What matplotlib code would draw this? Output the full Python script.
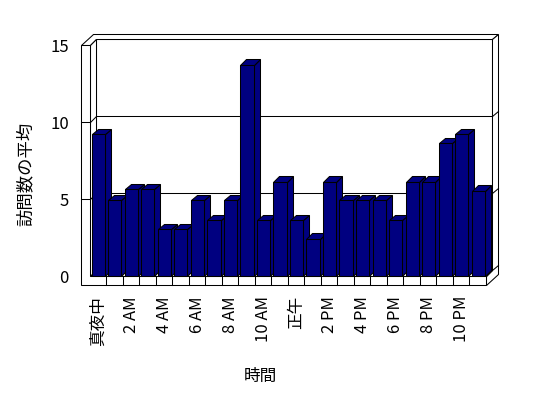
import matplotlib
matplotlib.use("Agg")
import matplotlib.pyplot as plt
from matplotlib.patches import Polygon
from matplotlib.lines import Line2D
from matplotlib.transforms import IdentityTransform

plt.rcParams['font.family'] = ['Noto Sans CJK JP', 'DejaVu Sans']

# ---- data ----
hours = list(range(24))
visits = [9.2, 4.9, 5.6, 5.6, 3.0, 3.0, 4.9, 3.6, 4.9, 13.7, 3.6, 6.1,
          3.6, 2.4, 6.1, 4.9, 4.9, 4.9, 3.6, 6.1, 6.1, 8.6, 9.2, 5.5]
tick_labels = ["真夜中", "2 AM", "4 AM", "6 AM", "8 AM", "10 AM",
               "正午", "2 PM", "4 PM", "6 PM", "8 PM", "10 PM"]
y_ticks = [0, 5, 10, 15]
x_title = "時間"
y_title = "訪問数の平均"

# ---- layout / style ----
W, H = 548, 398
BAR = "#000080"
LW = 0.75
DX, DY = 6.0, 5.5          # depth offset in pixels
WT, FT = 0.51, 0.6         # wall / floor thickness (data units)
N = len(hours)
YMAX = y_ticks[-1]

fig = plt.figure(figsize=(W / 100, H / 100), dpi=100)
ax = fig.add_axes([89.5 / W, 1 - 276.7 / H, (486 - 89.5) / W, (276.7 - 45.7) / H])
ax.set_xlim(0, N)
ax.set_ylim(0, YMAX)
ax.patch.set_visible(False)
for s in ax.spines.values():
    s.set_visible(False)


def P(x, y, d):
    X, Y = ax.transData.transform((x, y))
    # snap to pixel centres for crisp 1-px edges
    return (round(X + d * DX) + 0.5, round(Y + d * DY) + 0.5)


def poly(pts, fc, z):
    ax.add_patch(Polygon([P(*p) for p in pts], closed=True, transform=IdentityTransform(),
                         facecolor=fc, edgecolor="black", linewidth=LW, zorder=z,
                         clip_on=False, joinstyle="miter", snap=False))


def line(p, q, z=1.5):
    a, b = P(*p), P(*q)
    ax.add_line(Line2D([a[0], b[0]], [a[1], b[1]], transform=IdentityTransform(),
                       color="black", linewidth=LW, zorder=z, clip_on=False, snap=False))


# walls
poly([(0, 0, 1), (N, 0, 1), (N, YMAX, 1), (0, YMAX, 1)], "white", 1)
poly([(-WT, YMAX, 0), (0, YMAX, 0), (0, YMAX, 1), (N, YMAX, 1), (N, YMAX, 2), (-WT, YMAX, 2)], "white", 1)
poly([(N, 0, 0), (N, 0, 1), (N, YMAX, 1), (N, YMAX, 2), (N, -FT, 2), (N, -FT, 0)], "white", 1)
poly([(0, 0, 0), (0, YMAX, 0), (0, YMAX, 1), (0, 0, 1)], "white", 1)
poly([(0, 0, 0), (N, 0, 0), (N, 0, 1), (0, 0, 1)], "white", 1)
poly([(-WT, YMAX, 0), (0, YMAX, 0), (0, 0, 0), (N, 0, 0), (N, -FT, 0), (-WT, -FT, 0)], "white", 1.2)

for v in y_ticks[1:-1]:
    line((0, v, 1), (N, v, 1))
    line((0, v, 0), (0, v, 1))
    line((-WT, v, 0), (0, v, 0))
    line((N, v, 1), (N, v, 2))
line((N, 0, 1), (N, 0, 2))
for i in range(1, N):
    line((i, 0, 0), (i, -FT, 0))

# bars
for i, v in zip(hours, visits):
    x0, x1 = i + 0.13, i + 0.93
    z = 3 + i * 0.01
    poly([(x1, 0, 0), (x1, v, 0), (x1, v, 1), (x1, 0, 1)], BAR, z)
    poly([(x0, v, 0), (x1, v, 0), (x1, v, 1), (x0, v, 1)], BAR, z)
    poly([(x0, 0, 0), (x1, 0, 0), (x1, v, 0), (x0, v, 0)], BAR, z)

# ticks
ax.set_yticks(y_ticks)
ax.set_yticklabels([str(t) for t in y_ticks])
ax.tick_params(axis="y", length=0, pad=14.8, labelsize=12)
ax.set_xticks([h + 0.53 for h in hours[::2]])
ax.set_xticklabels(tick_labels, rotation=90)
ax.tick_params(axis="x", length=0, pad=13.9, labelsize=12)

fig.text(260 / W, 1 - 376.7 / H, x_title, ha="center", va="center", fontsize=12)
fig.text(25.5 / W, 1 - 173.5 / H, y_title, ha="center", va="center", rotation=90, fontsize=12.5)

fig.savefig("out.png", dpi=100, facecolor="white")
